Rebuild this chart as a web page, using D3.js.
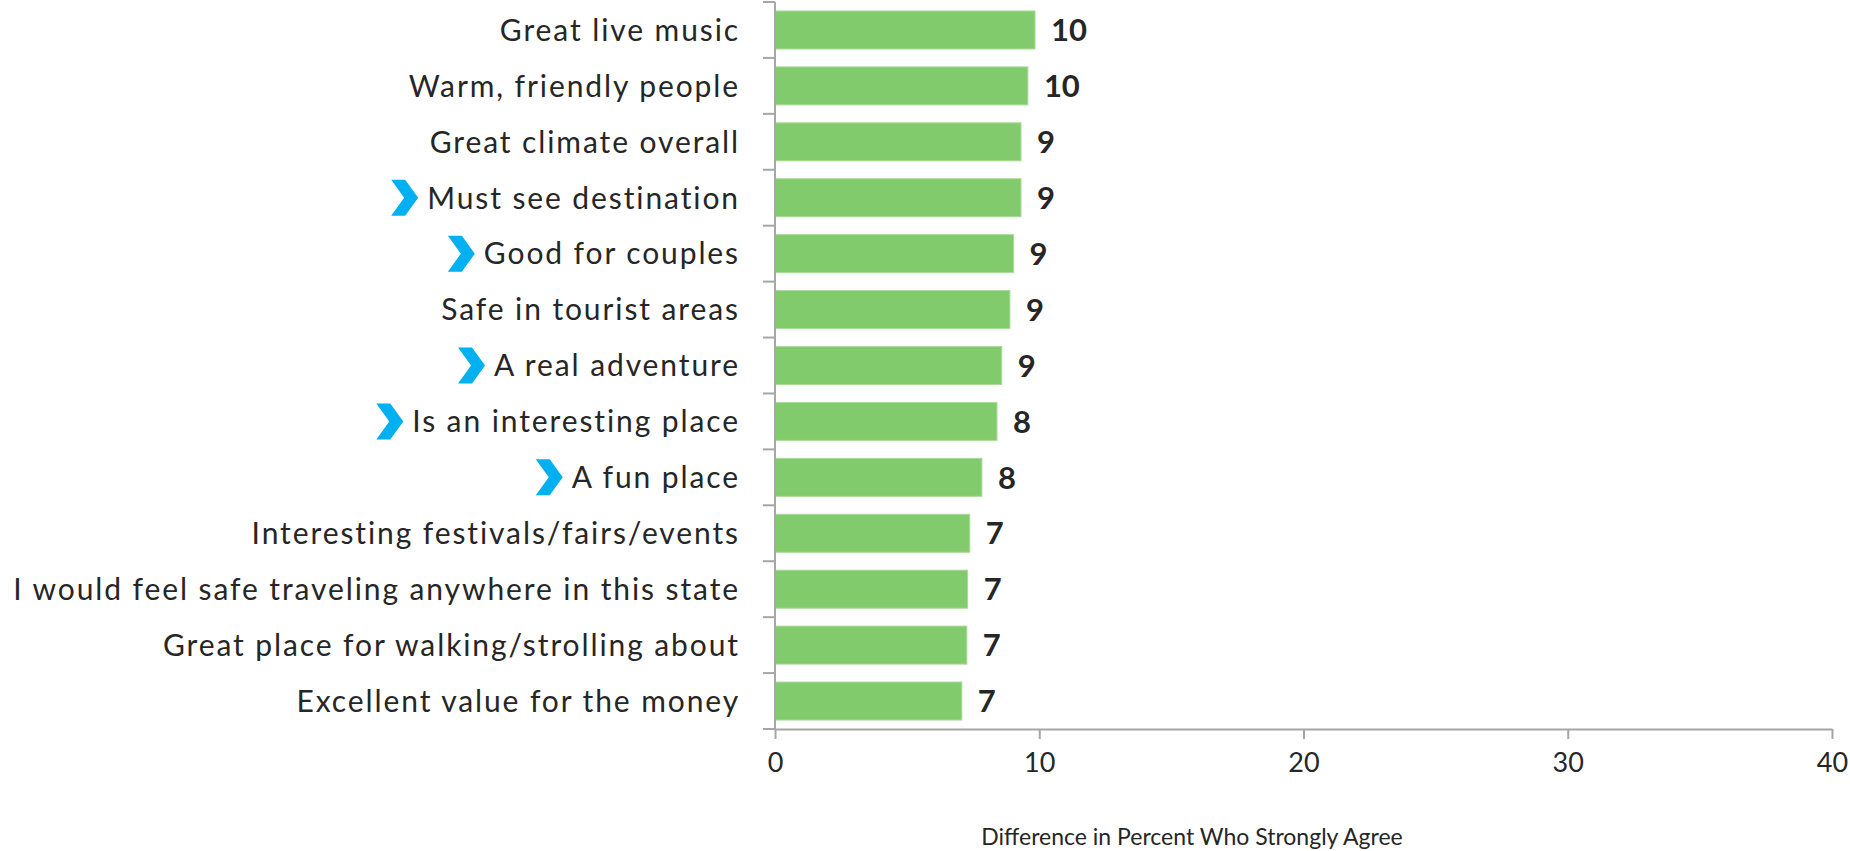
<!DOCTYPE html>
<html lang="en">
<head>
    <meta charset="UTF-8">
    <title>Difference in Percent Who Strongly Agree</title>
    <script src="https://d3js.org/d3.v7.min.js"></script>
    <style>
        body { margin: 0; background: #fff; }
        text { font-family: Lato, "Liberation Sans", sans-serif; fill: #262626; }
        .cat { font-size: 30px; letter-spacing: 1.9px; }
        .val { font-size: 31px; font-weight: bold; }
        .tick text { font-size: 27px; }
        .title { font-size: 23px; }
        .axis path, .axis line { stroke: #a6a6a6; stroke-width: 2; }
        .bar { fill: #82cb6d; stroke: #a9dc9a; stroke-width: 1; }
        .chevron { fill: #00b0f0; }
    </style>
</head>
<body>
<script>
    const width = 1850;
    const height = 851;

    // categories, top to bottom
    const categories = [
        "Great live music",
        "Warm, friendly people",
        "Great climate overall",
        "Must see destination",
        "Good for couples",
        "Safe in tourist areas",
        "A real adventure",
        "Is an interesting place",
        "A fun place",
        "Interesting festivals/fairs/events",
        "I would feel safe traveling anywhere in this state",
        "Great place for walking/strolling about",
        "Excellent value for the money"
    ];
    const values = [9.84, 9.57, 9.31, 9.31, 9.03, 8.89, 8.58, 8.4, 7.83, 7.37, 7.29, 7.26, 7.07];
    // categories marked with a blue chevron
    const highlighted = [
        "Must see destination",
        "Good for couples",
        "A real adventure",
        "Is an interesting place",
        "A fun place"
    ];
    const xTicks = [0, 10, 20, 30, 40];
    const xTitle = "Difference in Percent Who Strongly Agree";

    const data = categories.map((c, i) => ({cat: c, value: values[i]}));

    const svg = d3.select("body").append("svg")
        .attr("width", width).attr("height", height);

    const x = d3.scaleLinear().domain([0, 40]).range([775, 1832]);
    const y = d3.scaleBand().domain(categories).range([2, 729])
        .paddingInner(0.32).paddingOuter(0.16);

    const labelRight = 740;

    // bars
    svg.selectAll("rect.bar")
        .data(data)
        .enter()
        .append("rect")
        .attr("class", "bar")
        .attr("x", x(0))
        .attr("y", d => y(d.cat))
        .attr("width", d => x(d.value) - x(0))
        .attr("height", y.bandwidth());

    // value labels
    svg.selectAll("text.val")
        .data(data)
        .enter()
        .append("text")
        .attr("class", "val")
        .attr("x", d => x(d.value) + 16)
        .attr("y", d => y(d.cat) + y.bandwidth() / 2)
        .attr("dy", "0.36em")
        .text(d => d3.format(".0f")(d.value));

    // x axis
    svg.append("g")
        .attr("class", "axis")
        .attr("transform", `translate(0,${y.range()[1]})`)
        .call(d3.axisBottom(x).tickValues(xTicks).tickSizeInner(10).tickSizeOuter(0).tickPadding(14));

    // y axis line
    svg.append("line")
        .attr("x1", x(0)).attr("x2", x(0))
        .attr("y1", y.range()[0]).attr("y2", y.range()[1])
        .style("stroke", "#a6a6a6").style("stroke-width", 2);

    // tick marks between categories
    const bounds = categories.map(c => y(c) - y.step() * y.paddingInner() / 2);
    bounds.push(y.range()[1]);
    svg.selectAll("line.ytick")
        .data(bounds)
        .enter()
        .append("line")
        .attr("class", "ytick")
        .attr("x1", x(0) - 12).attr("x2", x(0))
        .attr("y1", d => d).attr("y2", d => d)
        .style("stroke", "#a6a6a6").style("stroke-width", 2);

    // category labels
    const labels = svg.selectAll("text.cat")
        .data(data)
        .enter()
        .append("text")
        .attr("class", "cat")
        .attr("x", labelRight)
        .attr("y", d => y(d.cat) + y.bandwidth() / 2)
        .attr("dy", "0.36em")
        .attr("text-anchor", "end")
        .text(d => d.cat);

    // chevrons in front of highlighted labels
    const cw = 27, ch = 36, notch = 13;
    labels.each(function(d) {
        if (!highlighted.includes(d.cat)) return;
        const box = this.getBBox();
        const right = box.x - 9;
        const cy = y(d.cat) + y.bandwidth() / 2;
        const l = right - cw;
        const pts = [
            [l, cy - ch / 2], [right - notch, cy - ch / 2], [right, cy],
            [right - notch, cy + ch / 2], [l, cy + ch / 2], [l + notch, cy]
        ];
        svg.append("polygon")
            .attr("class", "chevron")
            .attr("points", pts.map(p => p.join(",")).join(" "));
    });

    // axis title
    svg.append("text")
        .attr("class", "title")
        .attr("x", 1192)
        .attr("y", 845)
        .attr("text-anchor", "middle")
        .text(xTitle);
</script>
</body>
</html>
